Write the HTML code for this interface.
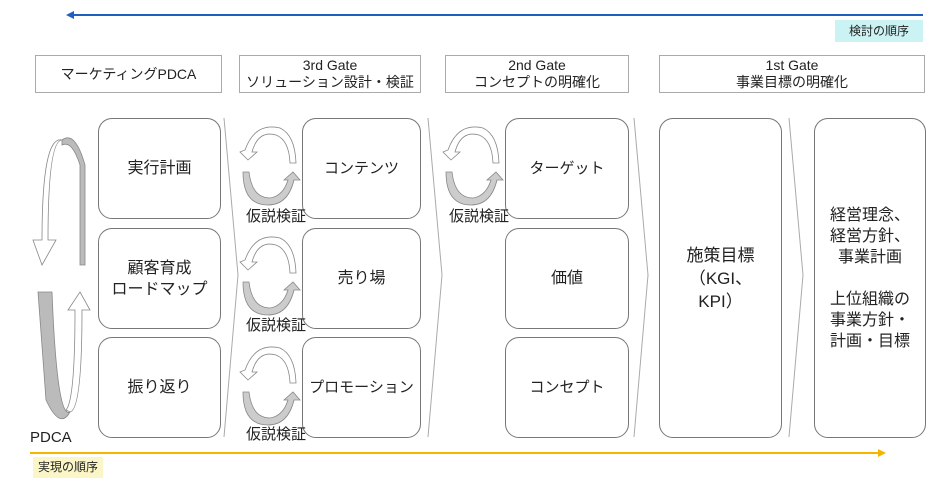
<!DOCTYPE html>
<html><head><meta charset="utf-8"><style>
body{margin:0;width:940px;height:479px;background:#fff;position:relative;overflow:hidden;font-family:"Liberation Sans","Noto Sans CJK JP",sans-serif;color:#222}
.a{position:absolute;box-sizing:border-box}
.h{border:1px solid #aaa;text-align:center;font-size:14px;line-height:17px;display:flex;align-items:center;justify-content:center;flex-direction:column}
.r{border:1px solid #777;border-radius:14px;text-align:center;font-size:16px;line-height:21px;display:flex;align-items:center;justify-content:center;flex-direction:column;background:#fff}
.t{font-size:14px;z-index:5}
</style></head><body>
<svg class="a" style="left:0;top:0" width="940" height="479">
<line x1="72" y1="15" x2="923" y2="15" stroke="#1f5fbf" stroke-width="2"/>
<polygon points="66,15 74,11 74,19" fill="#1f5fbf"/>
<line x1="30" y1="453" x2="880" y2="453" stroke="#f5b400" stroke-width="2"/>
<polygon points="886,453 878,449 878,457" fill="#f5b400"/>
<g fill="none" stroke="#aaa" stroke-width="1">
<polyline points="224,118 238,275 224,437"/>
<polyline points="428,118 442,275 428,437"/>
<polyline points="634,118 648,275 634,437"/>
<polyline points="789,118 803,275 789,437"/>
</g>
<g stroke="#888" stroke-width="0.8">
<path d="M62,140 Q75,130 85,165 L85,265 L80,265 L80,165 Q72,140 62,145 Z" fill="#bbb"/>
<path d="M38,292 L52,292 Q57,420 70,412 Q60,430 46,400 Z" fill="#bbb"/>
<path d="M62,140 Q48,140 48,240 L56,240 L42,265 L33,240 L42,240 Q42,135 62,140 Z" fill="#fff"/>
<path d="M70,412 Q82,410 82,310 L90,310 L80,292 L68,310 L75,310 Q75,400 66,410 Z" fill="#fff"/>
</g>
<g id="cyc" stroke="#888" stroke-width="0.8">
<path d="M245,150 Q255,122 280,128 Q295,135 296,163 L290,163 Q289,140 276,135 Q258,130 252,152 L257,152 L248,160 L240,152 Z" fill="#fff"/>
<path d="M243,172 L249,172 Q252,198 270,198 Q283,196 288,180 L284,180 L293,172 L300,180 L294,180 Q288,205 268,205 Q243,205 243,172 Z" fill="#ccc"/>
</g>
<use href="#cyc" transform="translate(0,110)"/>
<use href="#cyc" transform="translate(0,220)"/>
<use href="#cyc" transform="translate(203,0)"/>
</svg>
<div class="a" style="top:20px;left:835px;width:88px;height:22px;background:#ccf3f3;font-size:12px;text-align:center;line-height:22px">検討の順序</div>
<div class="a" style="left:33px;top:457px;width:70px;height:21px;background:#fbf6c8;font-size:12px;text-align:center;line-height:21px">実現の順序</div>
<div class="a" style="left:30px;top:429px;font-size:15px">PDCA</div>

<div class="a h" style="left:35px;top:55px;width:187px;height:38px">マーケティングPDCA</div>
<div class="a h" style="left:239px;top:55px;width:182px;height:38px"><div>3rd Gate</div><div>ソリューション設計・検証</div></div>
<div class="a h" style="left:445px;top:55px;width:184px;height:38px"><div>2nd Gate</div><div>コンセプトの明確化</div></div>
<div class="a h" style="left:659px;top:55px;width:266px;height:38px"><div>1st Gate</div><div>事業目標の明確化</div></div>

<div class="a r" style="left:98px;top:118px;width:123px;height:101px">実行計画</div>
<div class="a r" style="left:98px;top:228px;width:123px;height:101px">顧客育成<br>ロードマップ</div>
<div class="a r" style="left:98px;top:337px;width:123px;height:101px">振り返り</div>

<div class="a r" style="left:302px;top:118px;width:119px;height:101px;font-size:15px">コンテンツ</div>
<div class="a r" style="left:302px;top:228px;width:119px;height:101px">売り場</div>
<div class="a r" style="left:302px;top:337px;width:119px;height:101px;font-size:15px">プロモーション</div>

<div class="a r" style="left:505px;top:118px;width:124px;height:101px;font-size:15px">ターゲット</div>
<div class="a r" style="left:505px;top:228px;width:124px;height:101px">価値</div>
<div class="a r" style="left:505px;top:337px;width:124px;height:101px;font-size:15px">コンセプト</div>

<div class="a t" style="left:246px;top:205px;font-size:15px">仮説検証</div>
<div class="a t" style="left:246px;top:314px;font-size:15px">仮説検証</div>
<div class="a t" style="left:246px;top:423px;font-size:15px">仮説検証</div>
<div class="a t" style="left:449px;top:205px;font-size:15px">仮説検証</div>

<div class="a r" style="left:659px;top:118px;width:123px;height:320px;font-size:17px;line-height:23px">施策目標<br>（KGI、<br>KPI）</div>
<div class="a r" style="left:814px;top:118px;width:112px;height:320px;font-size:16px;line-height:21px">経営理念、<br>経営方針、<br>事業計画<br><br>上位組織の<br>事業方針・<br>計画・目標</div>
</body></html>
